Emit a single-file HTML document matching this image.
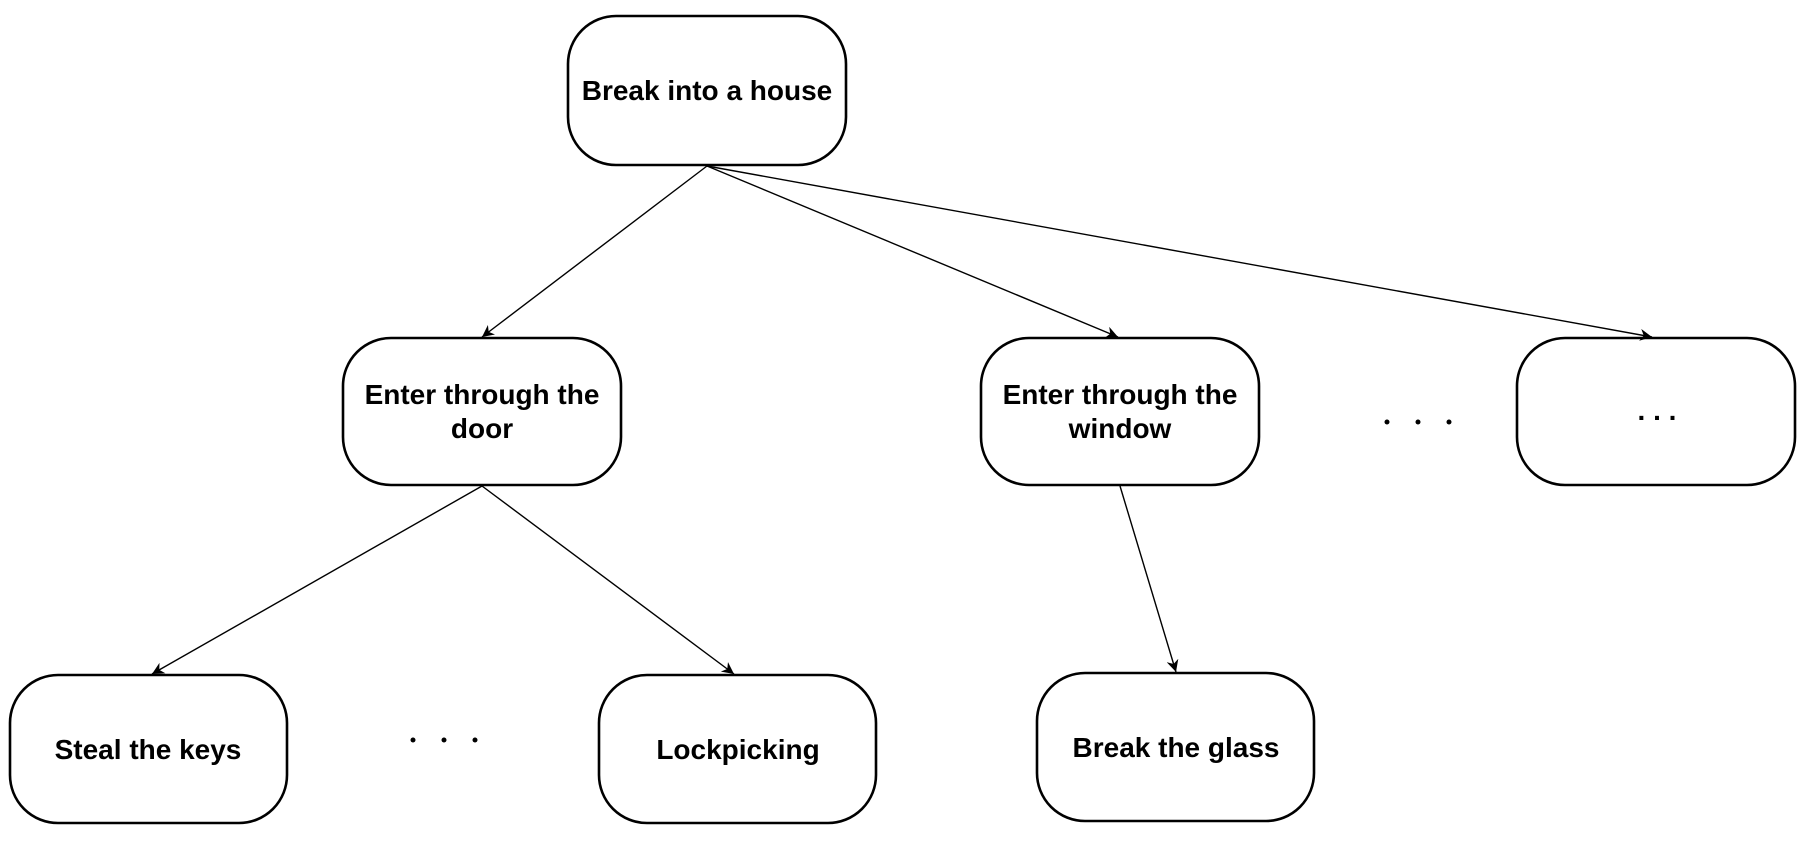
<!DOCTYPE html>
<html><head><meta charset="utf-8"><style>
html,body{margin:0;padding:0;background:#fff;}
svg{display:block;}
text{font-family:"Liberation Sans",Arial,sans-serif;font-weight:bold;font-size:28px;fill:#000;text-anchor:middle;}
</style></head><body>
<svg width="1812" height="854" viewBox="0 0 1812 854" xmlns="http://www.w3.org/2000/svg">
<defs>
<marker id="a" viewBox="0 0 10 10" refX="10" refY="5" markerWidth="12" markerHeight="12" markerUnits="userSpaceOnUse" orient="auto">
<path d="M0,0 L10,5 L0,10 L3,5 z" fill="#000"/>
</marker>
</defs>
<g fill="#fff" stroke="#000" stroke-width="2.6">
<rect x="568" y="16" width="278" height="149" rx="48"/>
<rect x="343" y="338" width="278" height="147" rx="48"/>
<rect x="981" y="338" width="278" height="147" rx="48"/>
<rect x="1517" y="338" width="278" height="147" rx="48"/>
<rect x="10" y="675" width="277" height="148" rx="48"/>
<rect x="599" y="675" width="277" height="148" rx="48"/>
<rect x="1037" y="673" width="277" height="148" rx="48"/>
</g>
<g stroke="#000" stroke-width="1.4" marker-end="url(#a)">
<line x1="707" y1="166" x2="482" y2="337"/>
<line x1="707" y1="166" x2="1118" y2="337"/>
<line x1="707" y1="166" x2="1652" y2="337"/>
<line x1="482" y1="486" x2="152" y2="674"/>
<line x1="482" y1="486" x2="734" y2="674"/>
<line x1="1120" y1="486" x2="1176" y2="672"/>
</g>
<text x="707" y="100">Break into a house</text>
<text x="482" y="404">Enter through the</text>
<text x="482" y="438">door</text>
<text x="1120" y="404">Enter through the</text>
<text x="1120" y="438">window</text>
<text x="1657" y="420">. . .</text>
<text x="148" y="759">Steal the keys</text>
<text x="738" y="759">Lockpicking</text>
<text x="1176" y="757">Break the glass</text>
<g fill="#000">
<circle cx="1387" cy="422" r="2.5"/><circle cx="1418" cy="422" r="2.5"/><circle cx="1449" cy="422" r="2.5"/>
<circle cx="413" cy="740" r="2.5"/><circle cx="444" cy="740" r="2.5"/><circle cx="475" cy="740" r="2.5"/>
</g>
</svg>
</body></html>
